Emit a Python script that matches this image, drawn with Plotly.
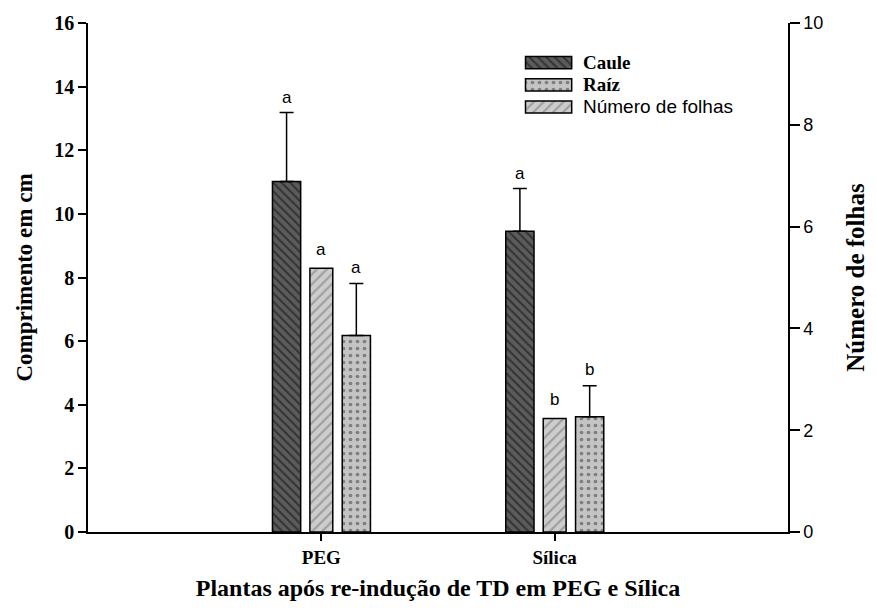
import plotly.graph_objects as go

# Treatments (x categories) and their positions on the numeric x axis
categories = ["PEG", "Sílica"]
cat_pos = [1, 2]

# Stem and root length (cm, left axis) with upper error bars
caule = [11.02, 9.45]
caule_err = [2.17, 1.35]
raiz = [6.18, 3.62]
raiz_err = [1.63, 0.98]

# Leaf number (right axis)
folhas = [5.18, 2.23]

# Significance letters per bar
letras_caule = ["a", "a"]
letras_folhas = ["a", "b"]
letras_raiz = ["a", "b"]

left_ticks = list(range(0, 17, 2))
right_ticks = list(range(0, 11, 2))

SERIF = "Liberation Serif"
SANS = "Liberation Sans"

# Bar geometry in x-axis units (category spacing = 1)
W_WIDE = 0.121
W_NARROW = 0.098
OFF_CAULE = -0.149
OFF_FOLHAS = 0.0
OFF_RAIZ = 0.150

styles = {
    "Caule": dict(color="#5c5c5c", pattern=dict(shape="\\", fgcolor="#0a0a0a", size=6, solidity=0.35, fillmode="overlay")),
    "Raíz": dict(color="#c4c4c4", pattern=dict(shape=".", fgcolor="#3a3a3a", size=7, solidity=0.22, fillmode="overlay")),
    "Número de folhas": dict(color="#cdcdcd", pattern=dict(shape="/", fgcolor="#6e6e6e", size=7, solidity=0.3, fillmode="overlay")),
}
outline = dict(color="black", width=1.5)

fig = go.Figure()


def add_bar(name, values, errs, width, offset, yaxis):
    st = styles[name]
    kw = dict(
        x=cat_pos, y=values, width=[width] * len(values),
        offset=[offset - width / 2] * len(values),
        marker=dict(color=st["color"], pattern=st["pattern"], line=outline),
        name=name, showlegend=False, yaxis=yaxis, xaxis="x",
    )
    if errs is not None:
        kw["error_y"] = dict(type="data", array=errs, arrayminus=[0] * len(errs),
                             symmetric=False, color="black", thickness=1.5, width=7)
    fig.add_trace(go.Bar(**kw))


add_bar("Caule", caule, caule_err, W_WIDE, OFF_CAULE, "y")
add_bar("Número de folhas", folhas, None, W_NARROW, OFF_FOLHAS, "y2")
add_bar("Raíz", raiz, raiz_err, W_WIDE, OFF_RAIZ, "y")

# Significance letters above each bar / error bar
annotations = []
letter_font = dict(family=SANS, size=17, color="black")
for i, xc in enumerate(cat_pos):
    annotations.append(dict(x=xc + OFF_CAULE, y=caule[i] + caule_err[i], xref="x", yref="y",
                            text=letras_caule[i], showarrow=False, yanchor="bottom", yshift=3,
                            font=letter_font))
    annotations.append(dict(x=xc + OFF_FOLHAS, y=folhas[i], xref="x", yref="y2",
                            text=letras_folhas[i], showarrow=False, yanchor="bottom", yshift=7,
                            font=letter_font))
    annotations.append(dict(x=xc + OFF_RAIZ, y=raiz[i] + raiz_err[i], xref="x", yref="y",
                            text=letras_raiz[i], showarrow=False, yanchor="bottom", yshift=5,
                            font=letter_font))

# Legend drawn on an overlay axis spanning the plot area (0..1 in both directions)
legend_items = ["Caule", "Raíz", "Número de folhas"]
legend_labels = ["<b>Caule</b>", "<b>Raíz</b>", "Número de folhas"]
legend_fonts = [dict(family=SERIF, size=19, color="black"),
                dict(family=SERIF, size=19, color="black"),
                dict(family=SANS, size=19, color="black")]
leg_x0, leg_len = 0.625, 0.066
leg_y0, leg_dy, leg_h = 0.922, 0.0435, 0.024
for k, name in enumerate(legend_items):
    st = styles[name]
    yc = leg_y0 - k * leg_dy
    fig.add_trace(go.Bar(
        x=[leg_len], y=[yc], base=[leg_x0], orientation="h",
        width=[leg_h], offset=[-leg_h / 2],
        marker=dict(color=st["color"], pattern=st["pattern"], line=outline),
        xaxis="x3", yaxis="y3", showlegend=False, hoverinfo="skip",
    ))
    annotations.append(dict(x=leg_x0 + leg_len + 0.013, y=yc, xref="x3", yref="y3",
                            text=legend_labels[k], showarrow=False, xanchor="left",
                            yanchor="middle", font=legend_fonts[k]))

axis_line = dict(showline=True, linecolor="black", linewidth=1.5, ticks="outside",
                 tickcolor="black", tickwidth=1.5, showgrid=False, zeroline=False)

fig.update_layout(
    width=877, height=611,
    margin=dict(l=88, r=87, t=18, b=79),
    plot_bgcolor="white", paper_bgcolor="white",
    barmode="overlay",
    showlegend=False,
    xaxis=dict(range=[0, 3], tickvals=cat_pos, ticktext=categories, ticklen=7,
               tickfont=dict(family=SERIF, size=19, color="black", weight="bold"),
               title=dict(text="<b>Plantas após re-indução de TD em PEG e Sílica</b>",
                          font=dict(family=SERIF, size=24, color="black"), standoff=13),
               **axis_line),
    yaxis=dict(range=[0, 16], tickvals=left_ticks, ticklen=8,
               tickfont=dict(family=SERIF, size=20, color="black", weight="bold"),
               title=dict(text="<b>Comprimento em cm</b>",
                          font=dict(family=SERIF, size=23, color="black"), standoff=15),
               **axis_line),
    yaxis2=dict(range=[0, 10], tickvals=right_ticks, ticklen=10, overlaying="y", side="right",
                tickfont=dict(family=SANS, size=18, color="black"),
                title=dict(text="<b>Número de folhas</b>",
                           font=dict(family=SERIF, size=25, color="black"), standoff=24),
                **axis_line),
    xaxis3=dict(domain=[0, 1], range=[0, 1], visible=False, fixedrange=True, overlaying="x"),
    yaxis3=dict(domain=[0, 1], range=[0, 1], visible=False, fixedrange=True, overlaying="y",
                anchor="x3"),
    annotations=annotations,
)

fig.write_html("out.html")
